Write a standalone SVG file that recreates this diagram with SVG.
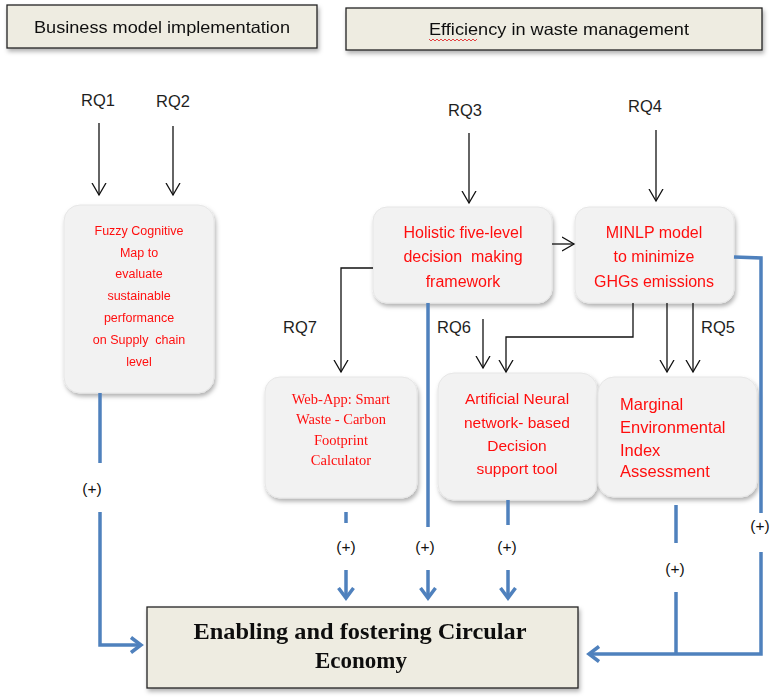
<svg xmlns="http://www.w3.org/2000/svg" width="774" height="698" viewBox="0 0 774 698">
<style>
.hdr{fill:#eeece1;stroke:#222;stroke-width:1.3}
.hdrt{font-family:"Liberation Sans",Arial,sans-serif;font-size:16.5px;fill:#111;text-anchor:middle}
.box{fill:#f2f2f2;stroke:#e6e6e6;stroke-width:1}
.red{font-family:"Liberation Sans",Arial,sans-serif;fill:#ff1010;text-anchor:middle}
.rq{font-family:"Liberation Sans",Arial,sans-serif;font-size:16.5px;fill:#1e1e1e;text-anchor:middle}
.plus{font-family:"Liberation Sans",Arial,sans-serif;font-size:15.5px;fill:#111;text-anchor:middle}
.blk{fill:none;stroke:#111;stroke-width:1.3}
.blu{fill:none;stroke:#4f81bd;stroke-width:3.5}
</style>
<defs>
<filter id="sh" x="-10%" y="-10%" width="125%" height="130%">
<feDropShadow dx="1.5" dy="3" stdDeviation="2.2" flood-color="#000" flood-opacity="0.3"/>
</filter>
<marker id="ab" markerUnits="userSpaceOnUse" markerWidth="16" markerHeight="18" refX="12" refY="8" orient="auto">
<path d="M0,1 L12,8 L0,15" fill="none" stroke="#111" stroke-width="1.3"/>
</marker>
<marker id="bb" markerUnits="userSpaceOnUse" markerWidth="16" markerHeight="20" refX="11" refY="9" orient="auto">
<path d="M1,1.5 L11,9 L1,16.5" fill="none" stroke="#4f81bd" stroke-width="3.5" stroke-linejoin="miter"/>
</marker>
</defs>
<rect width="774" height="698" fill="#fff"/>

<g id="hdr-business" filter="url(#sh)">
<rect class="hdr" x="7" y="5" width="310" height="43"/>
<text class="hdrt" x="162" y="33" textLength="256" lengthAdjust="spacingAndGlyphs">Business model implementation</text>
</g>
<g id="hdr-efficiency" filter="url(#sh)">
<rect class="hdr" x="346" y="8" width="416" height="42"/>
<text class="hdrt" x="559" y="35" textLength="260" lengthAdjust="spacingAndGlyphs">Efficiency in waste management</text>
<path d="M429,39 l2,2 l2,-2 l2,2 l2,-2 l2,2 l2,-2 l2,2 l2,-2 l2,2 l2,-2 l2,2 l2,-2 l2,2 l2,-2 l2,2 l2,-2 l2,2 l2,-2 l2,2 l2,-2 l2,2 l2,-2 l2,2 l2,-2" fill="none" stroke="#e03030" stroke-width="0.9"/>
</g>

<g id="rq-labels">
<text class="rq" x="98" y="106">RQ1</text>
<text class="rq" x="173" y="107">RQ2</text>
<text class="rq" x="465" y="116">RQ3</text>
<text class="rq" x="645" y="112">RQ4</text>
<text class="rq" x="300" y="333">RQ7</text>
<text class="rq" x="454" y="333">RQ6</text>
<text class="rq" x="718" y="333">RQ5</text>
</g>

<g id="fuzzy" filter="url(#sh)">
<rect class="box" x="64" y="205" width="150" height="188" rx="16"/>
<text class="red" font-size="12.5" x="139" y="235">Fuzzy Cognitive</text>
<text class="red" font-size="12.5" x="139" y="257">Map to</text>
<text class="red" font-size="12.5" x="139" y="278">evaluate</text>
<text class="red" font-size="12.5" x="139" y="300">sustainable</text>
<text class="red" font-size="12.5" x="139" y="322">performance</text>
<text class="red" font-size="12.5" x="139" y="344">on Supply&#160; chain</text>
<text class="red" font-size="12.5" x="139" y="366">level</text>
</g>

<g id="holistic" filter="url(#sh)">
<rect class="box" x="373" y="207" width="179" height="96" rx="14"/>
<text class="red" font-size="16" x="463" y="238">Holistic five-level</text>
<text class="red" font-size="16" x="463" y="262">decision&#160; making</text>
<text class="red" font-size="16" x="463" y="287">framework</text>
</g>

<g id="minlp" filter="url(#sh)">
<rect class="box" x="575" y="207" width="159" height="96" rx="14"/>
<text class="red" font-size="16" x="654" y="238">MINLP model</text>
<text class="red" font-size="16" x="654" y="262">to minimize</text>
<text class="red" font-size="16" x="654" y="287">GHGs emissions</text>
</g>

<g id="webapp" filter="url(#sh)">
<rect class="box" x="265" y="377" width="152" height="121" rx="15"/>
<g font-family="'Liberation Serif','Times New Roman',serif" font-size="14.5" fill="#ff1010" text-anchor="middle">
<text x="341" y="404">Web-App: Smart</text>
<text x="341" y="424">Waste - Carbon</text>
<text x="341" y="445">Footprint</text>
<text x="341" y="465">Calculator</text>
</g>
</g>

<g id="ann" filter="url(#sh)">
<rect class="box" x="438" y="373" width="159" height="127" rx="16"/>
<text class="red" font-size="15.5" x="517" y="404">Artificial Neural</text>
<text class="red" font-size="15.5" x="517" y="428">network- based</text>
<text class="red" font-size="15.5" x="517" y="451">Decision</text>
<text class="red" font-size="15.5" x="517" y="474">support tool</text>
</g>

<g id="marginal" filter="url(#sh)">
<rect class="box" x="598" y="377" width="159" height="120" rx="16"/>
<g font-family="'Liberation Sans',Arial,sans-serif" font-size="16.5" fill="#ff1010">
<text x="620" y="410">Marginal</text>
<text x="620" y="433">Environmental</text>
<text x="620" y="456">Index</text>
<text x="620" y="477">Assessment</text>
</g>
</g>

<g id="circular" filter="url(#sh)">
<rect class="hdr" x="147" y="607" width="431" height="81"/>
<g font-family="'Liberation Serif','Times New Roman',serif" font-size="23" font-weight="bold" fill="#111" text-anchor="middle">
<text x="360" y="639" textLength="333" lengthAdjust="spacingAndGlyphs">Enabling and fostering Circular</text>
<text x="361" y="668">Economy</text>
</g>
</g>

<g id="connectors">
<line class="blk" x1="99" y1="123" x2="99" y2="195" marker-end="url(#ab)"/>
<line class="blk" x1="173" y1="126" x2="173" y2="195" marker-end="url(#ab)"/>
<line class="blk" x1="469" y1="133" x2="469" y2="203" marker-end="url(#ab)"/>
<line class="blk" x1="656" y1="130" x2="656" y2="201" marker-end="url(#ab)"/>
<line class="blk" x1="552" y1="244" x2="574" y2="244" marker-end="url(#ab)"/>
<polyline class="blk" points="373,268 341,268 341,372" marker-end="url(#ab)"/>
<line class="blk" x1="483" y1="319" x2="483" y2="368" marker-end="url(#ab)"/>
<polyline class="blk" points="633,303 633,337 506,337 506,372" marker-end="url(#ab)"/>
<line class="blk" x1="667" y1="303" x2="667" y2="372" marker-end="url(#ab)"/>
<line class="blk" x1="693" y1="303" x2="693" y2="372" marker-end="url(#ab)"/>

<line class="blu" x1="100" y1="393" x2="100" y2="463"/>
<polyline class="blu" points="100,512 100,645 141,645" marker-end="url(#bb)"/>

<line class="blu" x1="346" y1="512" x2="346" y2="523"/>
<line class="blu" x1="346" y1="570" x2="346" y2="598" marker-end="url(#bb)"/>
<line class="blu" x1="428" y1="303" x2="428" y2="527"/>
<line class="blu" x1="428" y1="570" x2="428" y2="598" marker-end="url(#bb)"/>
<line class="blu" x1="508" y1="500" x2="508" y2="525"/>
<line class="blu" x1="508" y1="570" x2="508" y2="598" marker-end="url(#bb)"/>

<line class="blu" x1="676" y1="505" x2="676" y2="543"/>
<line class="blu" x1="676" y1="592" x2="676" y2="654"/>
<polyline class="blu" points="734,257 761,258 761,513"/>
<polyline class="blu" points="761,552 761,654 589,654" marker-end="url(#bb)"/>
</g>

<g id="plus-labels">
<text class="plus" x="92" y="494">(+)</text>
<text class="plus" x="346" y="552">(+)</text>
<text class="plus" x="425" y="552">(+)</text>
<text class="plus" x="507" y="552">(+)</text>
<text class="plus" x="675" y="574">(+)</text>
<text class="plus" x="760" y="531">(+)</text>
</g>
</svg>
